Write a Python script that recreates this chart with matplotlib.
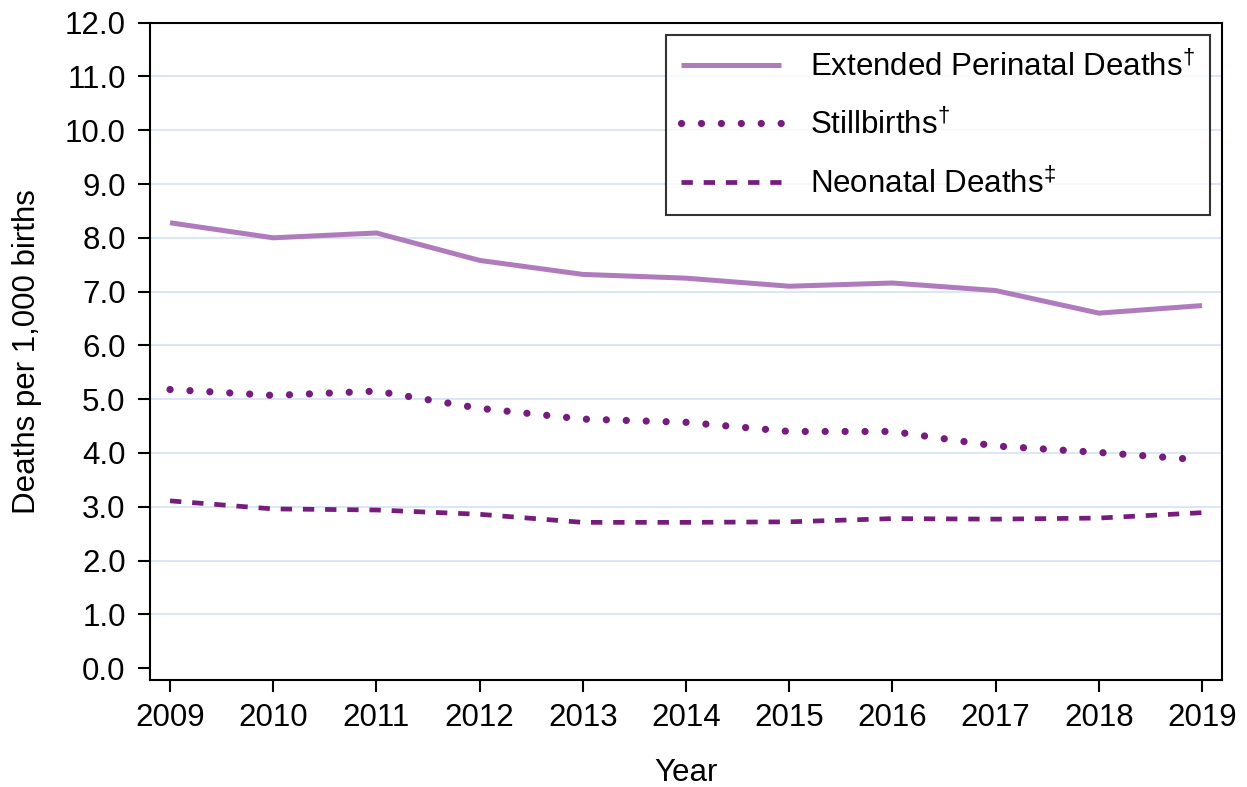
import matplotlib
matplotlib.use("Agg")
import matplotlib.pyplot as plt

years = [2009, 2010, 2011, 2012, 2013, 2014, 2015, 2016, 2017, 2018, 2019]
extended_perinatal = [8.28, 8.00, 8.09, 7.58, 7.32, 7.25, 7.10, 7.16, 7.02, 6.60, 6.74]
stillbirths = [5.18, 5.07, 5.15, 4.83, 4.63, 4.57, 4.40, 4.40, 4.13, 4.01, 3.87]
neonatal = [3.11, 2.96, 2.94, 2.86, 2.71, 2.71, 2.72, 2.78, 2.77, 2.79, 2.89]
yticks = [0, 1, 2, 3, 4, 5, 6, 7, 8, 9, 10, 11, 12]
labels = ["Extended Perinatal Deaths$^{\\mathrm{\u2020}}$",
          "Stillbirths$^{\\mathrm{\u2020}}$",
          "Neonatal Deaths$^{\\mathrm{\u2021}}$"]

plt.rcParams['font.family'] = ['Liberation Sans', 'DejaVu Sans']
plt.rcParams['mathtext.fontset'] = 'custom'
plt.rcParams['mathtext.rm'] = 'Liberation Sans'
plt.rcParams['mathtext.it'] = 'Liberation Sans:italic'
plt.rcParams['mathtext.bf'] = 'Liberation Sans:bold'

light = '#b07bbd'
dark = '#761c7c'
fs = 22.5

fig = plt.figure(figsize=(12.47, 7.87), dpi=100)
ax = fig.add_axes([0.1203, 0.1360, 0.98 - 0.1203, 0.9712 - 0.1360])

for y in yticks[1:-1]:
    ax.axhline(y, color='#d4e2f6', lw=1.2, zorder=0)

ax.plot(years, extended_perinatal, color=light, lw=3.6, solid_capstyle='butt',
        label=labels[0], zorder=3)
ax.plot(years, stillbirths, color=dark, lw=5.2, linestyle=(0, (0.01, 2.75)),
        dash_capstyle='round', label=labels[1], zorder=3)
ax.plot(years, neonatal, color=dark, lw=3.4, linestyle=(0, (2.4, 2.3)),
        dash_capstyle='butt', label=labels[2], zorder=3)

ax.set_xlim(2008.806, 2019.194)
ax.set_ylim(-0.22, 12.0)
ax.set_xticks(years)
ax.set_xticklabels([str(y) for y in years])
ax.set_yticks(yticks)
ax.set_yticklabels([f"{y:.1f}" for y in yticks])

for s in ax.spines.values():
    s.set_linewidth(1.5)
ax.tick_params(axis='both', direction='out', length=8.5, width=1.5,
               labelsize=fs, colors='black')
ax.tick_params(axis='y', pad=9)
ax.tick_params(axis='x', pad=8)

ax.set_xlabel("Year", fontsize=fs, labelpad=18)
ax.set_ylabel("Deaths per 1,000 births", fontsize=fs, labelpad=16)

leg = ax.legend(loc='upper right', bbox_to_anchor=(1210 / 1247, 1 - 35 / 787),
                bbox_transform=fig.transFigure, fontsize=fs, frameon=True,
                fancybox=False, edgecolor='black', handlelength=3.2,
                handletextpad=0.9, labelspacing=0.85, borderpad=0.5,
                borderaxespad=0)
leg.get_frame().set_linewidth(1.5)

fig.savefig("out.png", dpi=100)
